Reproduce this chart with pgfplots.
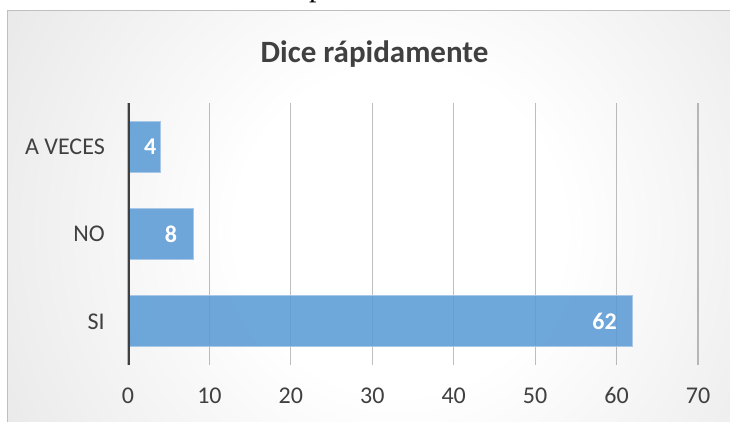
\documentclass[border=0pt]{standalone}
\usepackage{fontspec}
\setmainfont{Carlito}
\newfontfamily\serifpage{Liberation Serif}
\usepackage{pgfplots}
\pgfplotsset{compat=1.18}

\definecolor{barblue}{HTML}{5B9BD5}
\definecolor{barline}{HTML}{A9C8E8}
\definecolor{txtgray}{HTML}{404040}
\definecolor{bgA}{HTML}{E9E9E9}
\definecolor{bgB}{HTML}{D3D3D3}
\definecolor{bgC}{HTML}{C2C2C2}
\definecolor{frameline}{HTML}{BFBFBF}
\pgfdeclareradialshading{chartbg}{\pgfpoint{0bp}{0bp}}{color(0bp)=(white); color(9bp)=(white); color(25bp)=(bgA); color(37bp)=(bgB); color(50bp)=(bgC)}

\pgfplotsset{
    lbl/.style={draw=none, fill=none, nodes near coords, point meta=x,
        nodes near coords style={anchor=east, inner sep=0pt, text=white,
            font=\bfseries\fontsize{24}{28}\selectfont}},
}

\begin{document}
\begin{tikzpicture}[x=1pt,y=1pt]
\useasboundingbox (0,0) rectangle (730,421);
% fragment of the page text above the chart
\node[anchor=base west, inner sep=0pt, font=\serifpage\fontsize{30}{34}\selectfont] at (309,424) {p};
\begin{scope}
\clip (7,0) rectangle (731,410);
\shade[shading=chartbg] (400,191) circle (452);
\end{scope}
\draw[frameline, line width=1pt] (7,-2) -- (7,410) -- (732,410);
\node[anchor=base, inner sep=0pt, text=txtgray, font=\bfseries\fontsize{31}{36}\selectfont] at (374.5,358) {Dice rápidamente};

\begin{axis}[
    at={(128pt,56pt)}, anchor=south west,
    scale only axis, width=570pt, height=262pt,
    xbar, bar width=51pt, bar shift=0pt,
    xmin=0, xmax=70, ymin=-0.5, ymax=2.5,
    enlargelimits=false,
    xtick={0,10,...,70},
    ytick={0,1,2},
    yticklabels={SI,NO,A VECES},
    major tick length=0pt,
    axis line style={draw=none},
    xmajorgrids,
    major grid style={draw=black, draw opacity=0.25, line width=1.2pt},
    /pgf/number format/assume math mode=true,
    tick label style={font=\fontsize{24}{28}\selectfont, text=txtgray},
    xticklabel style={anchor=base, yshift=-38pt, inner sep=0pt},
    yticklabel style={anchor=east, inner sep=0pt, xshift=-23pt},
]
\addplot[fill=barblue, fill opacity=0.88, draw=barline, line width=0.8pt]
    coordinates {(62,0) (8,1) (4,2)};
% data labels, inside the bar ends
\addplot[lbl, nodes near coords style={xshift=-16pt}] coordinates {(62,0) (8,1)};
\addplot[lbl, nodes near coords style={xshift=-4pt}] coordinates {(4,2)};
\draw[txtgray, line width=3.3pt] (axis cs:0,-0.5) -- (axis cs:0,2.5);
\end{axis}
\end{tikzpicture}
\end{document}
